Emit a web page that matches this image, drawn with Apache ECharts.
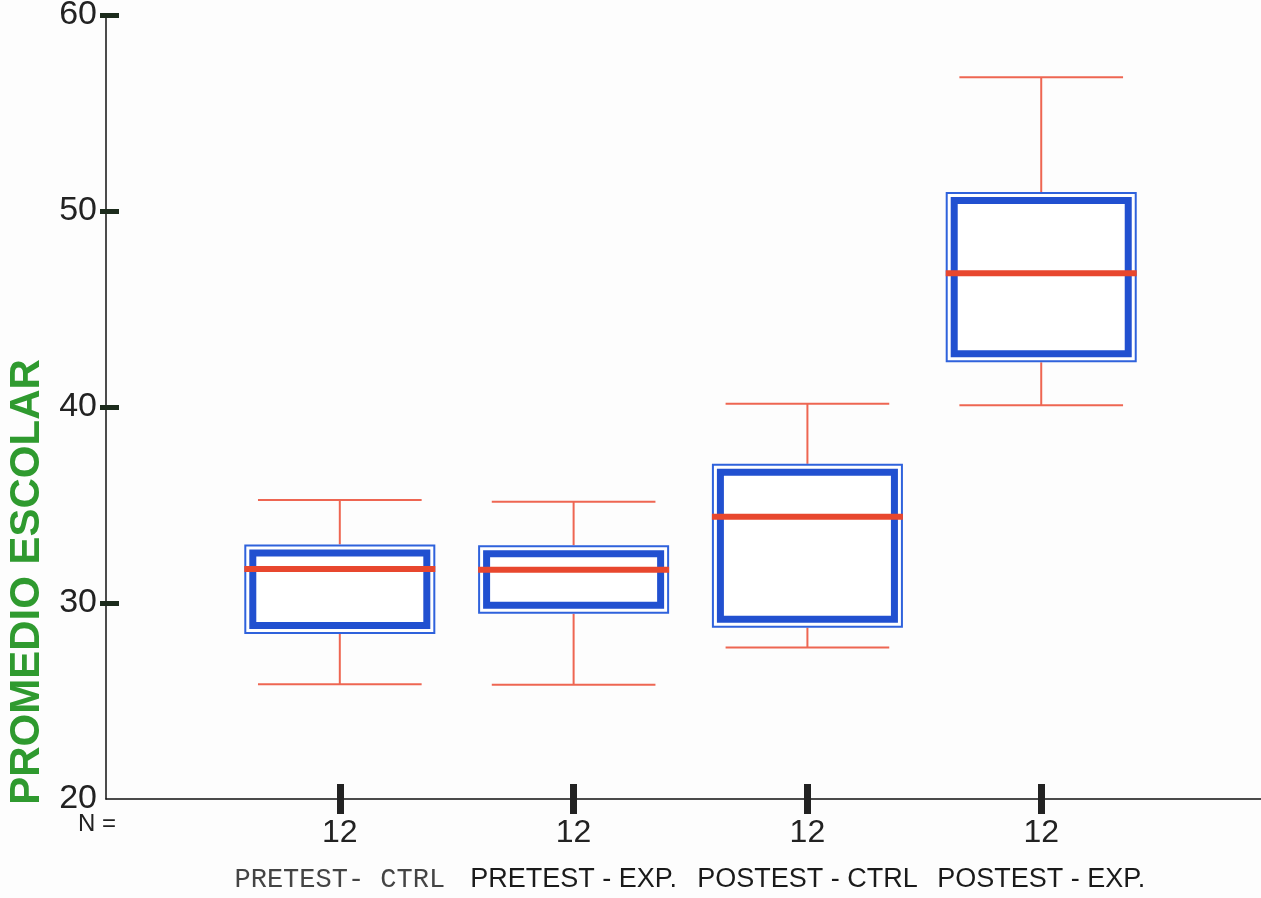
<!DOCTYPE html>
<html>
<head>
<meta charset="utf-8">
<title>Promedio escolar</title>
<script src="https://cdn.jsdelivr.net/npm/echarts@6/dist/echarts.min.js"></script>
<style>
  html, body { margin: 0; padding: 0; background: #fdfdfd; }
  #chart { width: 1261px; height: 898px; }
</style>
</head>
<body>
<div id="chart"></div>
<script>
// datos
var categories = ['PRETEST- CTRL', 'PRETEST - EXP.', 'POSTEST - CTRL', 'POSTEST - EXP.'];
var positions = [1, 2, 3, 4];
var nCounts = [12, 12, 12, 12];
var whiskerLow = [25.85, 25.83, 27.73, 40.09];
var q1 = [28.42, 29.45, 28.74, 42.28];
var median = [31.73, 31.70, 34.40, 46.83];
var q3 = [32.99, 32.95, 37.10, 50.97];
var whiskerHigh = [35.25, 35.17, 40.17, 56.83];
var yTicks = [20, 30, 40, 50, 60];

var SANS = "'Liberation Sans', Arial, sans-serif";
var MONO = "'Liberation Mono', 'Courier New', monospace";

var boxData = positions.map(function (p, i) {
    return [p, whiskerLow[i], q1[i], median[i], q3[i], whiskerHigh[i]];
});

function renderBox(params, api) {
    var x = api.value(0);
    var pMin = api.coord([x, api.value(1)]);
    var pQ1 = api.coord([x, api.value(2)]);
    var pMed = api.coord([x, api.value(3)]);
    var pQ3 = api.coord([x, api.value(4)]);
    var pMax = api.coord([x, api.value(5)]);
    var bw = api.size([0.817, 0])[0];
    var cw = api.size([0.70, 0])[0];
    var cx = pMed[0];
    var left = cx - bw / 2;
    var h = pQ1[1] - pQ3[1];
    var whisk = { stroke: '#ee6652', lineWidth: 2 };
    return {
        type: 'group',
        children: [
            { type: 'line', shape: { x1: cx, y1: pMax[1], x2: cx, y2: pQ3[1] }, style: whisk },
            { type: 'line', shape: { x1: cx, y1: pQ1[1], x2: cx, y2: pMin[1] }, style: whisk },
            { type: 'line', shape: { x1: cx - cw / 2, y1: pMax[1], x2: cx + cw / 2, y2: pMax[1] }, style: whisk },
            { type: 'line', shape: { x1: cx - cw / 2, y1: pMin[1], x2: cx + cw / 2, y2: pMin[1] }, style: whisk },
            { type: 'rect', shape: { x: left + 1, y: pQ3[1] + 1, width: bw - 2, height: h - 2 },
              style: { fill: '#ffffff', stroke: '#2f62dc', lineWidth: 2 } },
            { type: 'rect', shape: { x: left + 8.5, y: pQ3[1] + 8.5, width: bw - 17, height: h - 17 },
              style: { fill: 'none', stroke: '#2150d0', lineWidth: 7 } },
            { type: 'line', shape: { x1: left, y1: pMed[1], x2: left + bw, y2: pMed[1] },
              style: { stroke: '#e8472e', lineWidth: 6 } }
        ]
    };
}

var myChart = echarts.init(document.getElementById('chart'));

var labelValues = [0].concat(positions);

var option = {
    backgroundColor: '#fdfdfd',
    animation: false,
    grid: { left: 106, right: 0, top: 15, bottom: 99, containLabel: false, outerBoundsMode: 'none' },
    xAxis: [{
        type: 'value',
        min: 0,
        max: 4.94,
        splitLine: { show: false },
        axisLine: { show: true, lineStyle: { color: '#111', width: 1.5 } },
        axisTick: { show: true, customValues: positions, length: 15, lineStyle: { color: '#222', width: 7 } },
        axisLabel: {
            show: true,
            customValues: labelValues,
            margin: 16,
            formatter: function (v) {
                if (v === 0) return '{nl|N =}';
                var i = positions.indexOf(v);
                var style = i === 0 ? 'mono' : 'cat';
                return '{n|' + nCounts[i] + '}\n{' + style + '|' + categories[i] + '}';
            },
            rich: {
                nl: { fontFamily: SANS, fontSize: 24, color: '#222', lineHeight: 18, padding: [0, 18, 0, 0] },
                n: { fontFamily: SANS, fontSize: 32, color: '#222', lineHeight: 36 },
                cat: { fontFamily: SANS, fontSize: 27, color: '#1a1a1a', lineHeight: 58 },
                mono: { fontFamily: MONO, fontSize: 27, color: '#444', lineHeight: 58 }
            }
        }
    }, {
        type: 'value',
        min: 0,
        max: 4.94,
        position: 'bottom',
        splitLine: { show: false },
        axisLine: { show: false },
        axisLabel: { show: false },
        axisTick: { show: true, inside: true, customValues: positions, length: 15, lineStyle: { color: '#222', width: 7 } }
    }],
    yAxis: [{
        type: 'value',
        min: 20,
        max: 60,
        interval: 10,
        splitLine: { show: false },
        axisLine: { show: true, lineStyle: { color: '#111', width: 1.5 } },
        axisTick: { show: true, customValues: yTicks.slice(1), length: 6, lineStyle: { color: '#1c2b1c', width: 5 } },
        axisLabel: {
            margin: 9,
            fontFamily: SANS,
            fontSize: 34,
            color: '#222'
        },
        name: 'PROMEDIO ESCOLAR',
        nameLocation: 'middle',
        nameRotate: 90,
        nameGap: 58,
        nameMoveOverlap: false,
        nameTextStyle: {
            fontFamily: SANS,
            fontSize: 42,
            fontWeight: 'bold',
            color: '#2f9a2f',
            padding: [0, 350, 0, 0]
        }
    }, {
        type: 'value',
        min: 20,
        max: 60,
        interval: 10,
        position: 'left',
        splitLine: { show: false },
        axisLine: { show: false },
        axisLabel: { show: false },
        axisTick: { show: true, inside: true, customValues: yTicks.slice(1), length: 13, lineStyle: { color: '#1c2b1c', width: 5 } }
    }],
    series: [{
        type: 'custom',
        xAxisIndex: 0,
        yAxisIndex: 0,
        renderItem: renderBox,
        encode: { x: 0, y: [1, 2, 3, 4, 5] },
        data: boxData
    }]
};

myChart.setOption(option);
</script>
</body>
</html>
